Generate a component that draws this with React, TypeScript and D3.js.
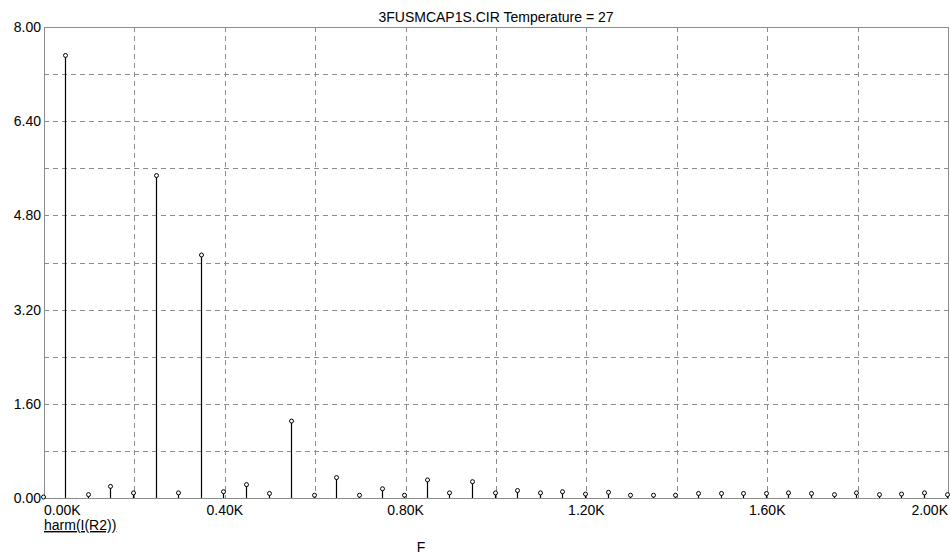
import React, { useEffect, useRef } from "react";
import * as d3 from "d3";

// harmonic number -> frequency = 50 Hz * n
const harmonics = d3.range(0, 41);
const amplitudes = [
  0.0, 7.5, 0.04, 0.18, 0.07, 5.46, 0.07, 4.11, 0.09, 0.21,
  0.06, 1.29, 0.03, 0.33, 0.03, 0.14, 0.03, 0.29, 0.07, 0.26,
  0.07, 0.11, 0.07, 0.09, 0.05, 0.08, 0.03, 0.03, 0.03, 0.06,
  0.06, 0.06, 0.06, 0.07, 0.06, 0.04, 0.07, 0.04, 0.05, 0.07,
  0.04,
];
const xTicks = [0, 400, 800, 1200, 1600, 2000];
const yTicks = [0, 1.6, 3.2, 4.8, 6.4, 8.0];
const xGrid = d3.range(200, 2000, 200);
const yGrid = d3.range(0.8, 8, 0.8);
const TITLE = "3FUSMCAP1S.CIR Temperature = 27";

const App = () => {
  const ref = useRef<SVGSVGElement>(null);

  useEffect(() => {
    const WIDTH = 950;
    const HEIGHT = 557;
    const MARGIN = { top: 27, right: 2, bottom: 59, left: 44 };
    const FONT = "'Liberation Sans', Arial, sans-serif";
    const FS = 14;

    const x = d3
      .scaleLinear()
      .domain([0, 2000])
      .range([MARGIN.left, WIDTH - MARGIN.right]);
    const y = d3
      .scaleLinear()
      .domain([0, 8])
      .range([HEIGHT - MARGIN.bottom, MARGIN.top]);

    const svg = d3.select(ref.current);
    svg.selectAll("*").remove();
    svg.attr("width", WIDTH).attr("height", HEIGHT);

    svg
      .append("rect")
      .attr("width", WIDTH)
      .attr("height", HEIGHT)
      .attr("fill", "#fff");

    /* grid */
    svg
      .append("g")
      .selectAll("line")
      .data(xGrid)
      .join("line")
      .attr("x1", (d) => Math.round(x(d)) + 0.5)
      .attr("x2", (d) => Math.round(x(d)) + 0.5)
      .attr("y1", y(8))
      .attr("y2", y(0))
      .attr("stroke", "#8c8c8c")
      .attr("stroke-dasharray", "5,4");
    svg
      .append("g")
      .selectAll("line")
      .data(yGrid)
      .join("line")
      .attr("x1", x(0))
      .attr("x2", x(2000))
      .attr("y1", (d) => Math.round(y(d)) + 0.5)
      .attr("y2", (d) => Math.round(y(d)) + 0.5)
      .attr("stroke", "#8c8c8c")
      .attr("stroke-dasharray", "5,4");

    /* frame */
    svg
      .append("rect")
      .attr("x", x(0) + 0.5)
      .attr("y", y(8) + 0.5)
      .attr("width", x(2000) - x(0))
      .attr("height", y(0) - y(8))
      .attr("fill", "none")
      .attr("stroke", "#8c8c8c")
      .attr("stroke-width", 1);

    /* y labels */
    svg
      .append("g")
      .selectAll("text")
      .data(yTicks)
      .join("text")
      .attr("x", x(0) - 3)
      .attr("y", (d) => y(d) + 5)
      .attr("text-anchor", "end")
      .attr("font-family", FONT)
      .attr("font-size", FS)
      .attr("fill", "#000")
      .text((d) => d3.format(".2f")(d));

    /* x labels */
    svg
      .append("g")
      .selectAll("text")
      .data(xTicks)
      .join("text")
      .attr("x", (d) => x(d))
      .attr("y", y(0) + 17)
      .attr("text-anchor", (d, i) =>
        i === 0 ? "start" : i === xTicks.length - 1 ? "end" : "middle"
      )
      .attr("font-family", FONT)
      .attr("font-size", FS)
      .attr("fill", "#000")
      .text((d) => d3.format(".2f")(d / 1000) + "K");

    /* stems */
    const pts = harmonics.map((n, i) => ({ f: n * 50, v: amplitudes[i] }));
    const sx = (f: number) => Math.floor(x(f)) - 0.5;
    svg
      .append("g")
      .selectAll("line")
      .data(pts)
      .join("line")
      .attr("x1", (d) => sx(d.f))
      .attr("x2", (d) => sx(d.f))
      .attr("y1", y(0))
      .attr("y2", (d) => y(d.v))
      .attr("stroke", "#000")
      .attr("stroke-width", 1.2);
    svg
      .append("g")
      .selectAll("circle")
      .data(pts)
      .join("circle")
      .attr("cx", (d) => sx(d.f))
      .attr("cy", (d) => y(d.v) - 1)
      .attr("r", 2)
      .attr("fill", "#fff")
      .attr("stroke", "#000")
      .attr("stroke-width", 1);

    /* titles */
    svg
      .append("text")
      .attr("x", (x(0) + x(2000)) / 2)
      .attr("y", 22)
      .attr("text-anchor", "middle")
      .attr("font-family", FONT)
      .attr("font-size", FS)
      .text(TITLE);
    svg
      .append("text")
      .attr("x", x(0))
      .attr("y", y(0) + 32)
      .attr("font-family", FONT)
      .attr("font-size", FS)
      .attr("text-decoration", "underline")
      .text("harm(I(R2))");
    svg
      .append("text")
      .attr("x", 421)
      .attr("y", 552)
      .attr("text-anchor", "middle")
      .attr("font-family", FONT)
      .attr("font-size", FS)
      .text("F");
  }, []);

  return (
    <svg
      ref={ref}
      style={{ position: "absolute", left: 0, top: 0, display: "block" }}
    />
  );
};

export default App;
